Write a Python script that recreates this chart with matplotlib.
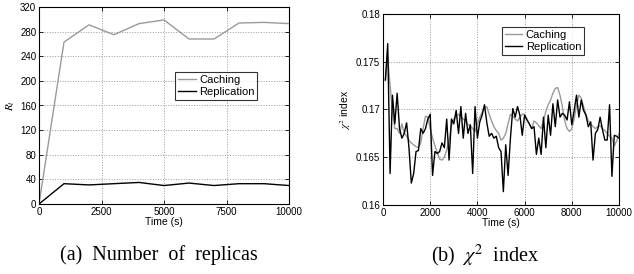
import numpy as np
import matplotlib
matplotlib.use("Agg")
import matplotlib.pyplot as plt

plt.rcParams['font.family'] = ['Liberation Sans', 'DejaVu Sans']
plt.rcParams['mathtext.fontset'] = 'stix'

# (a) number of replicas, sampled every 1000 s
t_rep = [0, 1000, 2000, 3000, 4000, 5000, 6000, 7000, 8000, 9000, 10000]
rep_caching = [0, 263, 291, 275, 293, 299, 268, 268, 294, 295, 293]
rep_replication = [0, 33, 31, 33, 35, 30, 34, 30, 33, 33, 30]

# (b) chi^2 index, sampled every 100 s
t_chi = list(range(100, 10001, 100))
chi_caching = [
    0.173, 0.1755, 0.1725, 0.170, 0.168, 0.168, 0.1675, 0.1685, 0.1675, 0.1672,
    0.1668, 0.1665, 0.1663, 0.1661, 0.166, 0.1665, 0.168, 0.1693, 0.1692, 0.168,
    0.167, 0.1662, 0.1655, 0.1648, 0.1647, 0.165, 0.1658, 0.1668, 0.1683, 0.169,
    0.1693, 0.1695, 0.1693, 0.169, 0.1688, 0.1684, 0.1683, 0.168, 0.1677, 0.1685,
    0.1692, 0.1697, 0.1702, 0.1703, 0.1695, 0.1688, 0.1682, 0.1678, 0.1675, 0.1668,
    0.167, 0.1675, 0.1685, 0.1695, 0.1693, 0.169, 0.1688, 0.1692, 0.1695, 0.1695,
    0.169, 0.1685, 0.168, 0.1688, 0.1686, 0.1683, 0.168, 0.1688, 0.1698, 0.1705,
    0.171, 0.1717, 0.1722, 0.1723, 0.1715, 0.1703, 0.1688, 0.168, 0.1677, 0.168,
    0.169, 0.1705, 0.1715, 0.1712, 0.1703, 0.1695, 0.1688, 0.1685, 0.1682, 0.168,
    0.1682, 0.1683, 0.168, 0.1678, 0.1675, 0.1672, 0.167, 0.1662, 0.1667, 0.1675,
]
chi_replication = [
    0.1731, 0.1769, 0.1633, 0.1715, 0.1685, 0.1717, 0.168, 0.167, 0.1675, 0.1686,
    0.166, 0.1623, 0.1633, 0.1656, 0.1657, 0.168, 0.1675, 0.168, 0.169, 0.1695,
    0.1631, 0.1656, 0.1654, 0.1656, 0.1665, 0.166, 0.169, 0.1647, 0.169, 0.1685,
    0.1699, 0.1675, 0.1703, 0.167, 0.1696, 0.1675, 0.1684, 0.1633, 0.1703, 0.167,
    0.1687, 0.1694, 0.1705, 0.1686, 0.1672, 0.1675, 0.167, 0.1672, 0.166, 0.1656,
    0.1614, 0.1663, 0.1631, 0.167, 0.1701, 0.1692, 0.1703, 0.1694, 0.1673, 0.1694,
    0.1689, 0.1685, 0.168, 0.1682, 0.1653, 0.167, 0.1653, 0.1692, 0.166, 0.1694,
    0.1673, 0.1706, 0.1682, 0.171, 0.1692, 0.1696, 0.1694, 0.1689, 0.1708, 0.1684,
    0.1699, 0.1715, 0.1692, 0.171, 0.1699, 0.1694, 0.1682, 0.1687, 0.1647, 0.1675,
    0.1679, 0.1692, 0.1679, 0.1668, 0.1668, 0.1705, 0.163, 0.1673, 0.1672, 0.167,
]

W, H = 634, 274
fig = plt.figure(figsize=(W / 100, H / 100), dpi=100)

def make_axes(l, r, t, b):
    return fig.add_axes([l / W, 1 - b / H, (r - l) / W, (b - t) / H])

def style(ax):
    ax.grid(True, linestyle=':', color='#999999', linewidth=0.7)
    ax.tick_params(direction='in', labelsize=7, pad=2, length=3, width=0.6,
                   top=True, right=True)
    for s in ax.spines.values():
        s.set_linewidth(0.8)

gray = '#9a9a9a'

# left panel
ax1 = make_axes(39, 289, 7, 204)
ax1.plot(t_rep, rep_caching, color=gray, lw=1.0, label='Caching')
ax1.plot(t_rep, rep_replication, color='black', lw=1.0, label='Replication')
ax1.set_xlim(0, 10000)
ax1.set_ylim(0, 320)
ax1.set_xticks([0, 2500, 5000, 7500, 10000])
ax1.set_yticks(range(0, 321, 40))
style(ax1)
ax1.set_xlabel('Time (s)', fontsize=7.5, labelpad=0)
ax1.set_ylabel('$R_t$', fontsize=8, labelpad=2)
leg1 = ax1.legend(loc='upper left', bbox_to_anchor=(0.545, 0.67), fontsize=8,
                  frameon=True, fancybox=False, edgecolor='black',
                  handlelength=1.6, handletextpad=0.3, borderpad=0.25,
                  labelspacing=0.2, borderaxespad=0)
leg1.get_frame().set_linewidth(0.8)

# right panel
ax2 = make_axes(383, 619, 14, 205)
ax2.plot(t_chi, chi_caching, color=gray, lw=1.0, label='Caching')
ax2.plot(t_chi, chi_replication, color='black', lw=1.0, label='Replication')
ax2.set_xlim(0, 10000)
ax2.set_ylim(0.16, 0.18)
ax2.set_xticks([0, 2000, 4000, 6000, 8000, 10000])
ax2.set_yticks([0.16, 0.165, 0.17, 0.175, 0.18])
ax2.set_yticklabels(['0.16', '0.165', '0.17', '0.175', '0.18'])
style(ax2)
ax2.set_xlabel('Time (s)', fontsize=7.5, labelpad=0)
ax2.set_ylabel('$\\chi^2$ index', fontsize=7.5, labelpad=2)
leg2 = ax2.legend(loc='upper right', bbox_to_anchor=(0.852, 0.932), fontsize=8,
                  frameon=True, fancybox=False, edgecolor='black',
                  handlelength=1.6, handletextpad=0.3, borderpad=0.25,
                  labelspacing=0.2, borderaxespad=0)
leg2.get_frame().set_linewidth(0.8)

# captions
fig.text(159 / W, 1 - 255 / H, '(a)  Number  of  replicas', ha='center', va='center',
         fontsize=14.5, family='Liberation Serif')
fig.text(485 / W, 1 - 256 / H, '(b)  $\\chi^2$  index', ha='center', va='center',
         fontsize=14.5, family='Liberation Serif')

fig.savefig('out.png', dpi=100)
